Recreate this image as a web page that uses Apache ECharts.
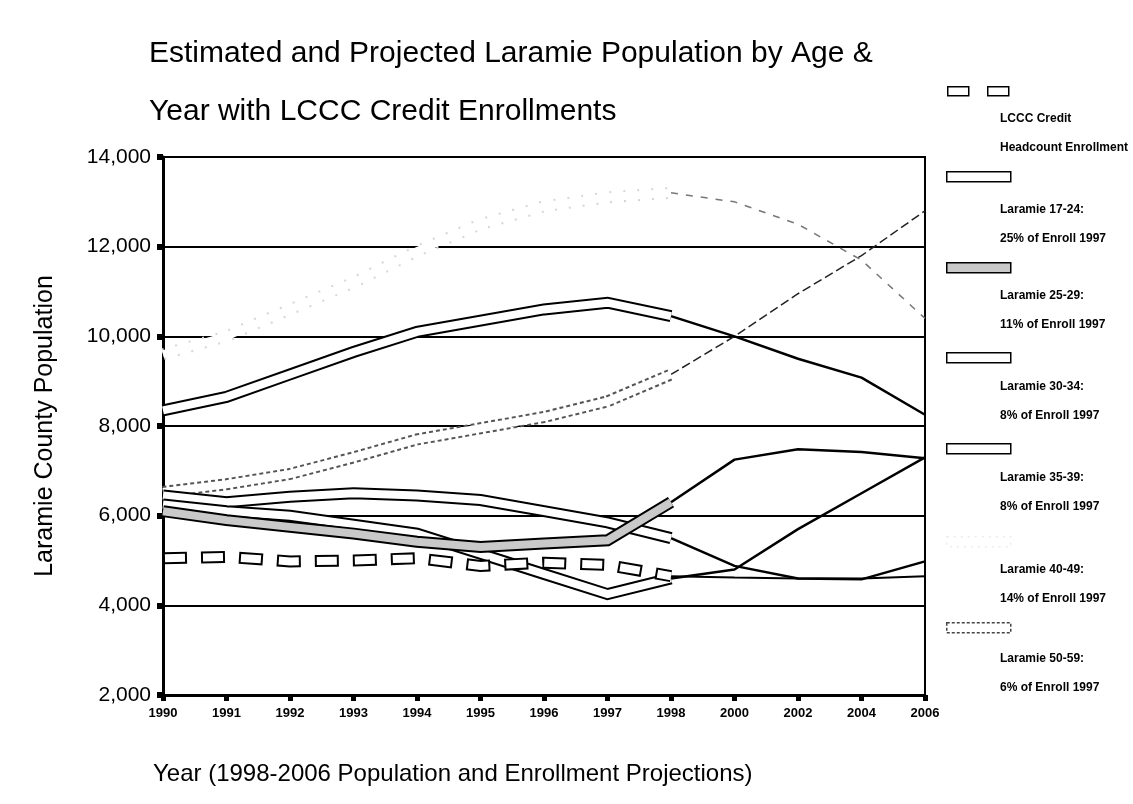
<!DOCTYPE html>
<html lang="en">
<head>
	<meta charset="UTF-8">
	<title>Laramie Population and LCCC Enrollments</title>
	<script src="https://cdn.jsdelivr.net/npm/echarts@6/dist/echarts.min.js" type="text/javascript"></script>
	<style>
		html,body{margin:0;padding:0;background:#fff;}
		#chart{width:1133px;height:804px;}
	</style>
</head>
<body>
<div id="chart"></div>
<script>
	// years on the x axis (1998-2006 are projections)
	var years = ['1990','1991','1992','1993','1994','1995','1996','1997','1998','2000','2002','2004','2006'];
	var yTicks = [2000, 4000, 6000, 8000, 10000, 12000, 14000];

	// values
	var lccc     = [5050, 5080, 4980, 5000, 5050, 4880, 4950, 4900, 4650, 4620, 4600, 4600, 4650];
	var age1724  = [6250, 6100, 6000, 5800, 5600, 5150, 4700, 4250, 4600, 4800, 5700, 6500, 7300];
	var age2529  = [6100, 5900, 5750, 5600, 5420, 5300, 5380, 5450, 6300, 7250, 7480, 7420, 7280];
	var age3034  = [6450, 6300, 6420, 6500, 6450, 6350, 6100, 5850, 5500, 4880, 4600, 4580, 4980];
	var age3539  = [8350, 8650, 9150, 9650, 10100, 10350, 10600, 10750, 10450, 10000, 9500, 9080, 8250];
	var age4049  = [9600, 10000, 10600, 11200, 11900, 12500, 12900, 13100, 13200, 13000, 12500, 11700, 10400];
	var age5059  = [6530, 6700, 6930, 7300, 7700, 7950, 8200, 8550, 9150, 10000, 10950, 11800, 12800];

	var lastEstimate = 8; // index of 1998, where the ribbons stop

	var myChart = echarts.init(document.getElementById('chart'));

	function part(arr, ribbon){
		var out = [];
		for(var i=0;i<arr.length;i++){
			if(ribbon) out.push(i<=lastEstimate ? arr[i] : '-');
			else out.push(i>=lastEstimate ? arr[i] : '-');
		}
		return out;
	}

	function line(name, data, style, z){
		return {
			name: name,
			type: 'line',
			data: data,
			symbol: 'none',
			silent: true,
			z: z,
			lineStyle: style
		};
	}

	// back to front
	var ribbons = [
		{name:'40-49', data:age4049, edge:{color:'#d6d6d6', width:12, type:[2,12]}, fill:'#fff', proj:{color:'#777', width:1.5, type:[7,8]}},
		{name:'50-59', data:age5059, edge:{color:'#555', width:12, type:[4,3]}, fill:'#fff', proj:{color:'#222', width:1.5, type:[9,4]}},
		{name:'35-39', data:age3539, edge:{color:'#000', width:12}, fill:'#fff', proj:{color:'#000', width:2.5}},
		{name:'30-34', data:age3034, edge:{color:'#000', width:12}, fill:'#fff', proj:{color:'#000', width:2.5}},
		{name:'17-24', data:age1724, edge:{color:'#000', width:12}, fill:'#fff', proj:{color:'#000', width:2.5}},
		{name:'25-29', data:age2529, edge:{color:'#000', width:12}, fill:'#c9c9c9', proj:{color:'#000', width:2.5}},
		{name:'LCCC', data:lccc, edge:{color:'#000', width:12, type:[24,14]}, fill:'#fff', fillType:[20,18], fillOffset:-2, proj:{color:'#000', width:2}}
	];

	var series = [];
	for(var i=0;i<ribbons.length;i++){
		var r = ribbons[i];
		var z = 2 + i*0.01;
		series.push(line(r.name+' proj', part(r.data,false), {color:r.proj.color, width:r.proj.width, type:r.proj.type||'solid'}, z));
		series.push(line(r.name+' edge', part(r.data,true), {color:r.edge.color, width:r.edge.width, type:r.edge.type||'solid', join:'miter', cap:'butt'}, z));
		series.push(line(r.name+' fill', part(r.data,true), {color:r.fill, width:8, type:r.fillType||'solid', dashOffset:r.fillOffset||0, join:'miter', cap:'butt'}, z));
	}

	// legend drawn by hand to follow the original layout
	var legendRows = [
		['LCCC Credit','Headcount Enrollment'],
		['Laramie 17-24:','25% of Enroll 1997'],
		['Laramie 25-29:','11% of Enroll 1997'],
		['Laramie 30-34:','8% of Enroll 1997'],
		['Laramie 35-39:','8% of Enroll 1997'],
		['Laramie 40-49:','14% of Enroll 1997'],
		['Laramie 50-59:','6% of Enroll 1997']
	];
	var boxTops = [86, 171, 262, 352, 443, 536, 622];
	var textTops = [121, 212, 298, 389, 480, 572, 661];
	var boxStyles = [
		null,
		{fill:'#fff', stroke:'#000'},
		{fill:'#c9c9c9', stroke:'#000'},
		{fill:'#fff', stroke:'#000'},
		{fill:'#fff', stroke:'#000'},
		{fill:'#fff', stroke:'#ececec', lineDash:[2,5]},
		{fill:'#fff', stroke:'#444', lineDash:[3,2]}
	];
	var graphics = [];
	graphics.push({type:'rect', left:947, top:boxTops[0], shape:{width:21,height:9}, style:{fill:'#fff', stroke:'#000', lineWidth:1.5}});
	graphics.push({type:'rect', left:987, top:boxTops[0], shape:{width:21,height:9}, style:{fill:'#fff', stroke:'#000', lineWidth:1.5}});
	for(var k=0;k<legendRows.length;k++){
		if(boxStyles[k]){
			graphics.push({type:'rect', left:946, top:boxTops[k], shape:{width:64,height:10},
				style:{fill:boxStyles[k].fill, stroke:boxStyles[k].stroke, lineWidth:1.5, lineDash:boxStyles[k].lineDash||null}});
		}
		graphics.push({type:'text', left:1000, top:textTops[k]-8, style:{text:legendRows[k][0], font:'bold 12px Arial', fill:'#000'}});
		graphics.push({type:'text', left:1000, top:textTops[k]+21, style:{text:legendRows[k][1], font:'bold 12px Arial', fill:'#000'}});
	}

	var option = {
		animation: false,
		backgroundColor: '#fff',
		title: [{
			text: 'Estimated and Projected Laramie Population by Age &\nYear with LCCC Credit Enrollments',
			left: 144,
			top: 20,
			textStyle: {fontFamily:'Arial', fontSize:30, fontWeight:'normal', color:'#000', lineHeight:58}
		},{
			text: 'Year (1998-2006 Population and Enrollment Projections)',
			left: 148,
			top: 757,
			textStyle: {fontFamily:'Arial', fontSize:24, fontWeight:'normal', color:'#000'}
		}],
		grid: {
			left: 163, right: 208, top: 157, bottom: 109,
			show: true, borderColor:'#000', borderWidth:2
		},
		xAxis: {
			type: 'category',
			data: years,
			boundaryGap: false,
			axisLine: {lineStyle:{color:'#000', width:3}},
			axisTick: {alignWithLabel:true, length:6, lineStyle:{color:'#000', width:5}},
			axisLabel: {color:'#000', fontFamily:'Arial', fontWeight:'bold', fontSize:13, margin:12, interval:0},
			splitLine: {show:false}
		},
		yAxis: {
			type: 'value',
			min: yTicks[0],
			max: yTicks[yTicks.length-1],
			interval: 2000,
			name: 'Laramie County Population',
			nameLocation: 'middle',
			nameGap: 105,
			nameTextStyle: {fontFamily:'Arial', fontSize:25, color:'#000'},
			axisLine: {show:true, lineStyle:{color:'#000', width:3}},
			axisTick: {show:true, length:6, lineStyle:{color:'#000', width:6}},
			axisLabel: {color:'#000', fontFamily:'Arial', fontSize:21, margin:12,
				formatter:function(v){return v.toLocaleString('en-US');}},
			splitLine: {lineStyle:{color:'#000', width:2}}
		},
		graphic: graphics,
		series: series
	};

	myChart.setOption(option);
</script>
</body>
</html>
